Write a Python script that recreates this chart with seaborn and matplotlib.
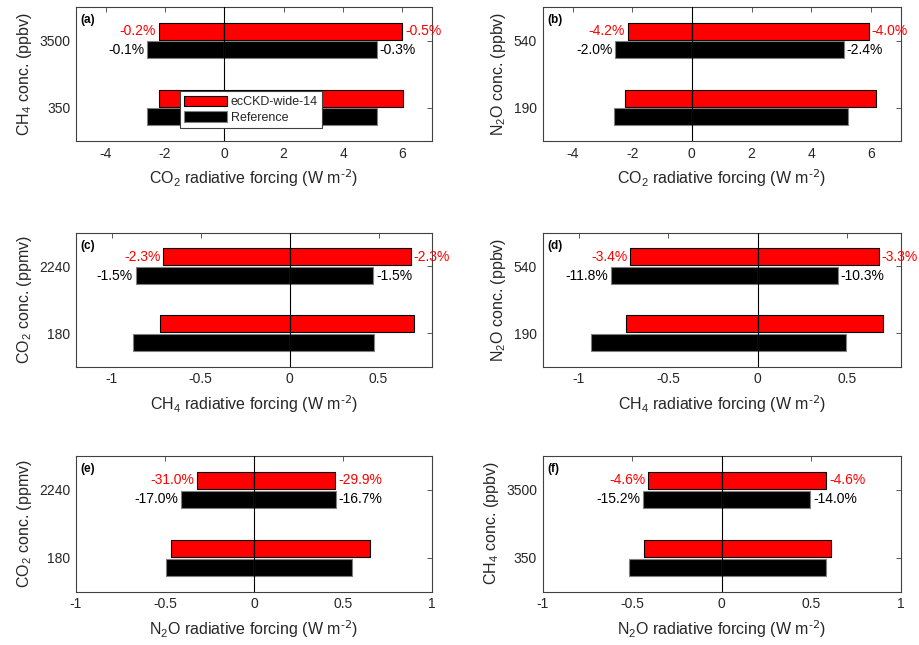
import matplotlib
matplotlib.use("Agg")
import matplotlib.pyplot as plt
import pandas as pd
import seaborn as sns
from matplotlib.patches import Patch
from matplotlib.ticker import FuncFormatter

models = ["ecCKD-wide-14", "Reference"]
palette = {"ecCKD-wide-14": "#ff0000", "Reference": "#000000"}

# (a) CO2 forcing for two CH4 concentrations
a_conc = ["3500", "350"]
a_ecckd_neg = [-2.21, -2.21]
a_ecckd_pos = [6.00, 6.03]
a_ref_neg = [-2.59, -2.59]
a_ref_pos = [5.13, 5.15]
a_ecckd_err = ["-0.2%", "-0.5%"]
a_ref_err = ["-0.1%", "-0.3%"]

# (b) CO2 forcing for two N2O concentrations
b_conc = ["540", "190"]
b_ecckd_neg = [-2.15, -2.25]
b_ecckd_pos = [5.93, 6.18]
b_ref_neg = [-2.57, -2.62]
b_ref_pos = [5.10, 5.25]
b_ecckd_err = ["-4.2%", "-4.0%"]
b_ref_err = ["-2.0%", "-2.4%"]

# (c) CH4 forcing for two CO2 concentrations
c_conc = ["2240", "180"]
c_ecckd_neg = [-0.711, -0.728]
c_ecckd_pos = [0.682, 0.701]
c_ref_neg = [-0.865, -0.878]
c_ref_pos = [0.470, 0.476]
c_ecckd_err = ["-2.3%", "-2.3%"]
c_ref_err = ["-1.5%", "-1.5%"]

# (d) CH4 forcing for two N2O concentrations
d_conc = ["540", "190"]
d_ecckd_neg = [-0.710, -0.737]
d_ecckd_pos = [0.679, 0.703]
d_ref_neg = [-0.817, -0.928]
d_ref_pos = [0.447, 0.497]
d_ecckd_err = ["-3.4%", "-3.3%"]
d_ref_err = ["-11.8%", "-10.3%"]

# (e) N2O forcing for two CO2 concentrations
e_conc = ["2240", "180"]
e_ecckd_neg = [-0.321, -0.465]
e_ecckd_pos = [0.456, 0.652]
e_ref_neg = [-0.409, -0.493]
e_ref_pos = [0.459, 0.551]
e_ecckd_err = ["-31.0%", "-29.9%"]
e_ref_err = ["-17.0%", "-16.7%"]

# (f) N2O forcing for two CH4 concentrations
f_conc = ["3500", "350"]
f_ecckd_neg = [-0.412, -0.433]
f_ecckd_pos = [0.584, 0.612]
f_ref_neg = [-0.440, -0.517]
f_ref_pos = [0.495, 0.580]
f_ecckd_err = ["-4.6%", "-4.6%"]
f_ref_err = ["-15.2%", "-14.0%"]

unit = r"(W m$^{\text{-2}}$)"
panels = [
    ("a", a_conc, a_ecckd_neg, a_ecckd_pos, a_ref_neg, a_ref_pos, a_ecckd_err, a_ref_err,
     "CO$_2$ radiative forcing " + unit, "CH$_4$ conc. (ppbv)", (-5, 7), [-4, -2, 0, 2, 4, 6]),
    ("b", b_conc, b_ecckd_neg, b_ecckd_pos, b_ref_neg, b_ref_pos, b_ecckd_err, b_ref_err,
     "CO$_2$ radiative forcing " + unit, "N$_2$O conc. (ppbv)", (-5, 7), [-4, -2, 0, 2, 4, 6]),
    ("c", c_conc, c_ecckd_neg, c_ecckd_pos, c_ref_neg, c_ref_pos, c_ecckd_err, c_ref_err,
     "CH$_4$ radiative forcing " + unit, "CO$_2$ conc. (ppmv)", (-1.2, 0.8), [-1, -0.5, 0, 0.5]),
    ("d", d_conc, d_ecckd_neg, d_ecckd_pos, d_ref_neg, d_ref_pos, d_ecckd_err, d_ref_err,
     "CH$_4$ radiative forcing " + unit, "N$_2$O conc. (ppbv)", (-1.2, 0.8), [-1, -0.5, 0, 0.5]),
    ("e", e_conc, e_ecckd_neg, e_ecckd_pos, e_ref_neg, e_ref_pos, e_ecckd_err, e_ref_err,
     "N$_2$O radiative forcing " + unit, "CO$_2$ conc. (ppmv)", (-1, 1), [-1, -0.5, 0, 0.5, 1]),
    ("f", f_conc, f_ecckd_neg, f_ecckd_pos, f_ref_neg, f_ref_pos, f_ecckd_err, f_ref_err,
     "N$_2$O radiative forcing " + unit, "CH$_4$ conc. (ppbv)", (-1, 1), [-1, -0.5, 0, 0.5, 1]),
]

sns.set_theme(style="white")
plt.rcParams["font.family"] = ["Liberation Sans", "DejaVu Sans"]
plt.rcParams["mathtext.default"] = "regular"
plt.rcParams["axes.unicode_minus"] = False

W, H = 919, 645
fig = plt.figure(figsize=(W / 100, H / 100), dpi=100)

col_x = [(76, 356), (542.7, 358)]
row_y = [(7, 141), (232.7, 366.7), (455.7, 591.7)]

fmt = FuncFormatter(lambda v, p: "%g" % v)
axis_grey = "0.25"
text_grey = "0.15"

for i, (letter, conc, ec_neg, ec_pos, rf_neg, rf_pos, ec_err, rf_err,
        xlabel, ylabel, xlim, xticks) in enumerate(panels):
    r, c = divmod(i, 2)
    x0, w = col_x[c]
    top, bot = row_y[r]
    ax = fig.add_axes([x0 / W, (H - bot) / H, w / W, (bot - top) / H])

    df = pd.DataFrame({
        "conc": conc * 2,
        "model": [models[0]] * 2 + [models[1]] * 2,
        "neg": ec_neg + rf_neg,
        "pos": ec_pos + rf_pos,
        "err_neg": [ec_err[0], "", rf_err[0], ""],
        "err_pos": [ec_err[1], "", rf_err[1], ""],
    })

    for side in ["neg", "pos"]:
        n_before = len(ax.containers)
        sns.barplot(data=df, x=side, y="conc", hue="model", order=conc,
                    hue_order=models, palette=palette, orient="h",
                    width=0.56, gap=0.1, errorbar=None, saturation=1,
                    legend=False, ax=ax)
        for cont, model in zip(ax.containers[n_before:], models):
            sub = df[df["model"] == model].set_index("conc").loc[conc]
            labels = list(sub["err_" + side])
            ax.bar_label(cont, labels=labels, padding=2, fontsize=10,
                         color=palette[model] if model == models[0] else "black")

    for p in ax.patches:
        fc = p.get_facecolor()
        if fc[0] > 0.5:
            p.set_edgecolor("black")
        else:
            p.set_edgecolor("0.5")
        p.set_linewidth(0.8)

    ax.axvline(0, color="black", lw=0.8, zorder=5)
    ax.set_xlim(*xlim)
    ax.set_ylim(1.5, -0.5)
    ax.set_xticks(xticks)
    ax.xaxis.set_major_formatter(fmt)
    ax.set_xlabel(xlabel, fontsize=11.5, color=text_grey, labelpad=5)
    ax.set_ylabel(ylabel, fontsize=11.5, color=text_grey, labelpad=4)
    ax.tick_params(direction="in", top=True, right=True, length=3.5, width=0.6,
                   color=axis_grey, labelcolor=text_grey, labelsize=10, pad=4)
    for s in ax.spines.values():
        s.set_color(axis_grey)
        s.set_linewidth(0.8)

    ax.text(0.012, 0.945, "(%s)" % letter, transform=ax.transAxes,
            fontsize=8.5, fontweight="bold", va="top", ha="left", color="black")

    if letter == "a":
        handles = [Patch(facecolor=palette[m],
                         edgecolor="black" if m == models[0] else "0.5",
                         linewidth=0.8, label=m) for m in models]
        leg = ax.legend(handles=handles, loc="lower left",
                        bbox_to_anchor=(0.292, 0.097), borderaxespad=0,
                        fontsize=9, frameon=True, fancybox=False,
                        framealpha=1, edgecolor=axis_grey,
                        handlelength=3.4, handleheight=0.9,
                        handletextpad=0.3, labelspacing=0.25,
                        borderpad=0.35)
        leg.get_frame().set_linewidth(0.8)
        leg.set_zorder(10)

fig.savefig("out.png", dpi=100)
